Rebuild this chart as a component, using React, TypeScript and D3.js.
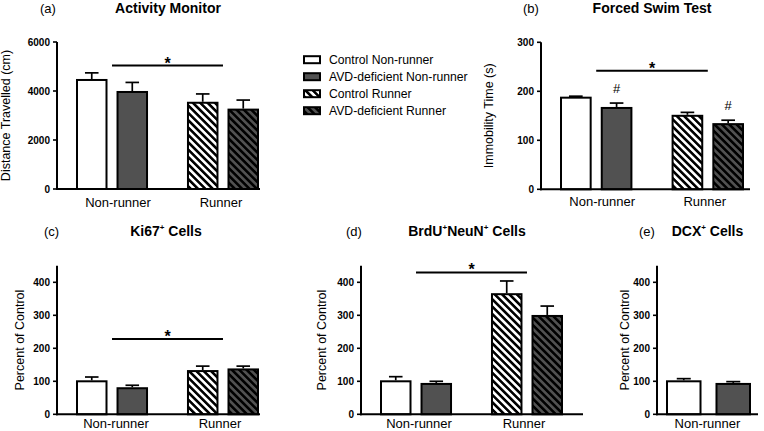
import React from "react";
import * as d3 from "d3";

// ---------- data ----------
const groups = ["Non-runner", "Runner"];
const seriesNames = [
  "Control Non-runner",
  "AVD-deficient Non-runner",
  "Control Runner",
  "AVD-deficient Runner",
];
const barGroup = [0, 0, 1, 1];
const barSlot = [0, 1, 0, 1];

const activityMeans = [4450, 3960, 3520, 3240];
const activityErrors = [290, 390, 360, 390];
const activityTicks = [0, 2000, 4000, 6000];

const swimMeans = [187, 166, 150, 133];
const swimErrors = [3, 10, 7, 8];
const swimTicks = [0, 100, 200, 300];
const swimHashBars = [1, 3];

const ki67Means = [100, 79, 131, 136];
const ki67Errors = [13, 9, 15, 10];

const brduMeans = [100, 92, 364, 298];
const brduErrors = [14, 8, 40, 30];

const dcxMeans = [100, 92];
const dcxErrors = [8, 7];

const percentTicks = [0, 100, 200, 300, 400];

const sigActivity = 5040;
const sigSwim = 242;
const sigKi67 = 228;
const sigBrdu = 430;

// ---------- style ----------
const FONT = "'Liberation Sans', Arial, Helvetica, sans-serif";
const DARK = "#515151";
const fills = ["#ffffff", DARK, "url(#hatchW)", "url(#hatchD)"];

type PanelProps = {
  means: number[];
  errors: number[];
  ticks: number[];
  yMax: number;
  yBottom: number;
  yTopPx: number;
  yTopVal: number;
  axisX: number;
  axisEnd: number;
  xStart: number;
  xEnd: number;
  groupList: string[];
  innerPad: number;
  yLabel: string;
  yLabelX: number;
  letter: string;
  letterX: number;
  title: React.ReactNode;
  titleX: number;
  titleY: number;
  sig?: number;
  hashBars?: number[];
  labelOffsets: number[];
  labelDy: number;
};

function Panel(p: PanelProps) {
  const y = d3.scaleLinear().domain([0, p.yTopVal]).range([p.yBottom, p.yTopPx]);
  const outer = d3
    .scaleBand<string>()
    .domain(p.groupList)
    .range([p.xStart, p.xEnd])
    .paddingInner(p.groupList.length > 1 ? 0.369 : 0)
    .paddingOuter(0);
  const inner = d3
    .scaleBand<number>()
    .domain([0, 1])
    .range([0, outer.bandwidth()])
    .paddingInner(p.innerPad)
    .paddingOuter(0);
  const bw = inner.bandwidth();
  const bx = (i: number) => (outer(p.groupList[barGroup[i]]) as number) + (inner(barSlot[i]) as number);
  const cap = Math.min(14, bw * 0.46);
  const y0 = y(0);
  const yLabelCenter = (y0 + y(p.yMax)) / 2;

  return (
    <g>
      <text x={p.letterX} y={p.titleY} fontSize={13} fontFamily={FONT}>
        {p.letter}
      </text>
      <text x={p.titleX} y={p.titleY} fontSize={14} fontWeight="bold" fontFamily={FONT} textAnchor="middle">
        {p.title}
      </text>
      <text
        transform={`translate(${p.yLabelX},${yLabelCenter}) rotate(-90)`}
        fontSize={12.5}
        fontFamily={FONT}
        textAnchor="middle"
      >
        {p.yLabel}
      </text>
      {/* bars */}
      {p.means.map((m, i) => (
        <rect
          key={"b" + i}
          x={bx(i)}
          y={y(m)}
          width={bw}
          height={y0 - y(m)}
          fill={fills[i]}
          stroke="#000"
          strokeWidth={2}
        />
      ))}
      {/* error bars */}
      {p.means.map((m, i) => {
        const cx = bx(i) + bw / 2;
        return (
          <g key={"e" + i} stroke="#000" strokeWidth={1.7}>
            <line x1={cx} x2={cx} y1={y(m) - 1} y2={y(m + p.errors[i])} />
            <line x1={cx - cap / 2} x2={cx + cap / 2} y1={y(m + p.errors[i])} y2={y(m + p.errors[i])} />
          </g>
        );
      })}
      {/* axes */}
      <line x1={p.axisX} x2={p.axisX} y1={y0 + 1} y2={y(p.yTopVal)} stroke="#000" strokeWidth={2} />
      <line x1={p.axisX - 1} x2={p.axisEnd} y1={y0} y2={y0} stroke="#000" strokeWidth={2} />
      {p.ticks.map((t) => (
        <g key={"t" + t}>
          <line x1={p.axisX - 4} x2={p.axisX} y1={y(t)} y2={y(t)} stroke="#000" strokeWidth={1.6} />
          <text
            x={p.axisX - 7}
            y={y(t)}
            dy="0.35em"
            fontSize={10}
            fontWeight="bold"
            fontFamily={FONT}
            textAnchor="end"
          >
            {t}
          </text>
        </g>
      ))}
      {p.groupList.map((g, gi) => (
        <text
          key={"g" + g}
          x={(outer(g) as number) + outer.bandwidth() / 2 + p.labelOffsets[gi]}
          y={y0 + p.labelDy}
          fontSize={13}
          fontFamily={FONT}
          textAnchor="middle"
        >
          {g}
        </text>
      ))}
      {p.sig !== undefined && (
        <g>
          <line
            x1={(outer(groups[0]) as number) + outer.bandwidth() / 2}
            x2={(outer(groups[1]) as number) + outer.bandwidth() / 2}
            y1={y(p.sig)}
            y2={y(p.sig)}
            stroke="#000"
            strokeWidth={2}
          />
          <text
            x={((outer(groups[0]) as number) + (outer(groups[1]) as number)) / 2 + outer.bandwidth() / 2}
            y={y(p.sig) + 3}
            fontSize={16}
            fontWeight="bold"
            fontFamily={FONT}
            textAnchor="middle"
          >
            *
          </text>
        </g>
      )}
      {p.hashBars &&
        p.hashBars.map((i) => (
          <text
            key={"h" + i}
            x={bx(i) + bw / 2}
            y={y(p.means[i] + p.errors[i]) - 10}
            fontSize={13}
            fontFamily={FONT}
            textAnchor="middle"
          >
            #
          </text>
        ))}
    </g>
  );
}

function Sup({ children }: { children: React.ReactNode }) {
  return (
    <tspan fontSize={8} dy={-6}>
      {children}
    </tspan>
  );
}

export default function App() {
  const legendY0 = 59.7;
  const legendStep = 17;
  return (
    <svg
      width={764}
      height={431}
      viewBox="0 0 764 431"
      style={{ position: "absolute", left: 0, top: 0, background: "#fff" }}
    >
      <defs>
        <pattern id="hatchW" patternUnits="userSpaceOnUse" width={5.2} height={5.2} patternTransform="rotate(-45)">
          <rect width={5.2} height={5.2} fill="#fff" />
          <rect width={2.6} height={5.2} fill="#000" />
        </pattern>
        <pattern id="hatchD" patternUnits="userSpaceOnUse" width={5.2} height={5.2} patternTransform="rotate(-45)">
          <rect width={5.2} height={5.2} fill={DARK} />
          <rect width={2.6} height={5.2} fill="#000" />
        </pattern>
      </defs>
      <rect width={764} height={431} fill="#fff" />

      {/* (a) */}
      <Panel
        means={activityMeans}
        errors={activityErrors}
        ticks={activityTicks}
        yMax={6000}
        yBottom={189}
        yTopPx={42}
        yTopVal={6000}
        axisX={57}
        axisEnd={260}
        xStart={77}
        xEnd={258}
        groupList={groups}
        innerPad={0.272}
        yLabel="Distance Travelled (cm)"
        yLabelX={10}
        letter="(a)"
        letterX={40}
        title="Activity Monitor"
        titleX={168}
        titleY={13}
        sig={sigActivity}
        labelOffsets={[6, -2]}
        labelDy={17.5}
      />
      {/* (b) */}
      <Panel
        means={swimMeans}
        errors={swimErrors}
        ticks={swimTicks}
        yMax={300}
        yBottom={189.3}
        yTopPx={42.3}
        yTopVal={300}
        axisX={541}
        axisEnd={750}
        xStart={561}
        xEnd={743}
        groupList={groups}
        innerPad={0.272}
        yLabel="Immobility Time (s)"
        yLabelX={493}
        letter="(b)"
        letterX={523}
        title="Forced Swim Test"
        titleX={652}
        titleY={13}
        sig={sigSwim}
        hashBars={swimHashBars}
        labelOffsets={[6, -3]}
        labelDy={17}
      />
      {/* (c) */}
      <Panel
        means={ki67Means}
        errors={ki67Errors}
        ticks={percentTicks}
        yMax={450}
        yBottom={414.3}
        yTopPx={265.8}
        yTopVal={450}
        axisX={57}
        axisEnd={260}
        xStart={77}
        xEnd={258}
        groupList={groups}
        innerPad={0.272}
        yLabel="Percent of Control"
        yLabelX={23.5}
        letter="(c)"
        letterX={44}
        title={
          <>
            Ki67<Sup>+</Sup>
            <tspan dy={6}> Cells</tspan>
          </>
        }
        titleX={166}
        titleY={236}
        sig={sigKi67}
        labelOffsets={[4, -3]}
        labelDy={13.5}
      />
      {/* (d) */}
      <Panel
        means={brduMeans}
        errors={brduErrors}
        ticks={percentTicks}
        yMax={450}
        yBottom={414.3}
        yTopPx={265.8}
        yTopVal={450}
        axisX={361}
        axisEnd={583}
        xStart={381}
        xEnd={562}
        groupList={groups}
        innerPad={0.272}
        yLabel="Percent of Control"
        yLabelX={325.5}
        letter="(d)"
        letterX={346}
        title={
          <>
            BrdU<Sup>+</Sup>
            <tspan dy={6}>NeuN</tspan>
            <Sup>+</Sup>
            <tspan dy={6}> Cells</tspan>
          </>
        }
        titleX={467}
        titleY={236}
        sig={sigBrdu}
        labelOffsets={[3, -3]}
        labelDy={13.5}
      />
      {/* (e) */}
      <Panel
        means={dcxMeans}
        errors={dcxErrors}
        ticks={percentTicks}
        yMax={450}
        yBottom={414.3}
        yTopPx={265.8}
        yTopVal={450}
        axisX={657}
        axisEnd={758}
        xStart={667}
        xEnd={750}
        groupList={[groups[0]]}
        innerPad={0.323}
        yLabel="Percent of Control"
        yLabelX={629}
        letter="(e)"
        letterX={639}
        title={
          <>
            DCX<Sup>+</Sup>
            <tspan dy={6}> Cells</tspan>
          </>
        }
        titleX={707.5}
        titleY={236}
        labelOffsets={[-1]}
        labelDy={13.5}
      />

      {/* legend */}
      {seriesNames.map((s, i) => (
        <g key={s}>
          <rect
            x={304}
            y={legendY0 + i * legendStep - 3.5}
            width={16}
            height={7}
            fill={fills[i]}
            stroke="#000"
            strokeWidth={2}
          />
          <text x={329} y={legendY0 + i * legendStep + 4.3} fontSize={12.2} fontFamily={FONT}>
            {s}
          </text>
        </g>
      ))}
    </svg>
  );
}
